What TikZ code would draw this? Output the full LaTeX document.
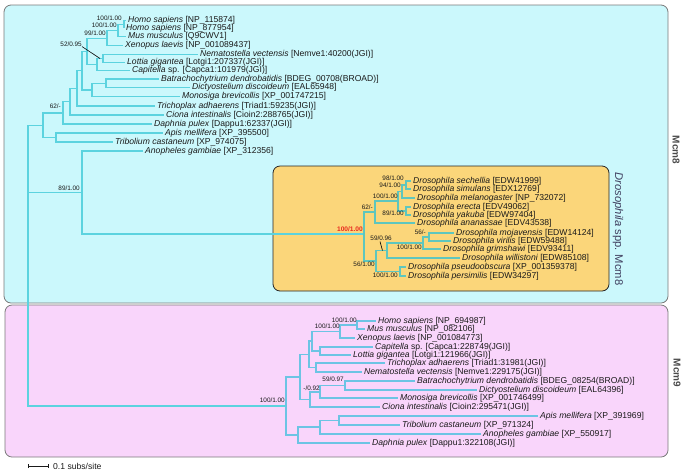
\documentclass[tikz,border=0pt]{standalone}
\usepackage{fontspec}
\setmainfont{Liberation Sans}
\usetikzlibrary{arrows.meta}
\definecolor{boxA}{HTML}{CBF8FC}
\definecolor{boxB}{HTML}{F9D5FB}
\definecolor{boxD}{HTML}{FBD67A}
\definecolor{bordA}{HTML}{7A7A7A}
\definecolor{bordD}{HTML}{262626}
\definecolor{cA}{HTML}{5CD3DF}
\definecolor{cD}{HTML}{5EC6BE}
\definecolor{cB}{HTML}{6CC4E4}
\definecolor{txt}{HTML}{1A1A1A}
\definecolor{mlab}{HTML}{4A4A4A}
\definecolor{dlab}{HTML}{3F3F5F}
\definecolor{redlab}{HTML}{E8281E}
\tikzset{
  leaf/.style={anchor=west, inner xsep=2pt, inner ysep=0pt, font=\fontsize{8.6}{9}\selectfont, text=txt},
  sup/.style={anchor=east, inner sep=0pt, font=\fontsize{6.4}{7}\selectfont, text=txt},
  bA/.style={draw=cA, line width=1.2pt},
  bD/.style={draw=cD, line width=1.2pt},
  bB/.style={draw=cB, line width=1.2pt},
  panel/.style={rounded corners=7pt, line width=0.8pt},
  leader/.style={draw=black, line width=0.6pt},
}
\begin{document}
\begin{tikzpicture}[x=1pt,y=-1pt]
\useasboundingbox (0,0) rectangle (685,475);
% panels
\draw[panel, fill=boxA, draw=bordA] (4,5) rectangle (668,303);
\draw[panel, fill=boxB, draw=bordA] (5,305) rectangle (668,457);
\draw[panel, fill=boxD, draw=bordD] (273,166) rectangle (609,291);
\node[rotate=-90, font=\fontsize{10}{12}\selectfont\bfseries, text=mlab] (m8) at (676,150) {Mcm8};
\node[rotate=-90, font=\fontsize{10}{12}\selectfont\bfseries, text=mlab] (m9) at (677,373) {Mcm9};
\node[rotate=-90, font=\fontsize{11.2}{13}\selectfont, text=dlab] (dl) at (618,229) {\textit{Drosophila} spp. Mcm8};

% ---------- Mcm8 leaves ----------
\node[leaf] (t1) at (126,20.7) {\textit{Homo sapiens} [NP\_115874]};
\node[leaf] (t2) at (124,28.3) {\textit{Homo sapiens} [NP\_877954]};
\node[leaf] (t3) at (126,36.7) {\textit{Mus musculus} [Q9CWV1]};
\node[leaf] (t4) at (123,45.7) {\textit{Xenopus laevis} [NP\_001089437]};
\node[leaf] (t5) at (198,54.3) {\textit{Nematostella vectensis} [Nemve1:40200(JGI)]};
\node[leaf] (t6) at (125,62.7) {\textit{Lottia gigantea} [Lotgi1:207337(JGI)]};
\node[leaf] (t7) at (130,70.7) {\textit{Capitella} sp. [Capca1:101979(JGI)]};
\node[leaf] (t8) at (159,79) {\textit{Batrachochytrium dendrobatidis} [BDEG\_00708(BROAD)]};
\node[leaf] (t9) at (190,87.3) {\textit{Dictyostelium discoideum} [EAL65948]};
\node[leaf] (t10) at (180,96.7) {\textit{Monosiga brevicollis} [XP\_001747215]};
\node[leaf] (t11) at (155,106) {\textit{Trichoplax adhaerens} [Triad1:59235(JGI)]};
\node[leaf] (t12) at (164,115) {\textit{Ciona intestinalis} [Cioin2:288765(JGI)]};
\node[leaf] (t13) at (152,124) {\textit{Daphnia pulex} [Dappu1:62337(JGI)]};
\node[leaf] (t14) at (163,133) {\textit{Apis mellifera} [XP\_395500]};
\node[leaf] (t15) at (113,142) {\textit{Tribolium castaneum} [XP\_974075]};
\node[leaf] (t16) at (143,151) {\textit{Anopheles gambiae} [XP\_312356]};

% Mcm8 internal nodes
\coordinate (R) at (28,192.5);
\coordinate (a) at (124,24.5);
\coordinate (b) at (118,30.6);
\coordinate (c) at (107,38.2);
\coordinate (d) at (103,58.5);
\coordinate (e) at (97,64.6);
\coordinate (f) at (87,51.4);
\coordinate (g) at (106,83.2);
\coordinate (hh) at (92,90);
\coordinate (i) at (82,70.7);
\coordinate (j) at (77,88.4);
\coordinate (k) at (70,101.7);
\coordinate (K) at (63,112.9);
\coordinate (L) at (56,137.5);
\coordinate (H) at (43,125.2);
\coordinate (G) at (82,192.5);

\draw[bA] (a) |- (t1.west);
\draw[bA] (a) |- (t2.west);
\draw[bA] (b) |- (a);
\draw[bA] (b) |- (t3.west);
\draw[bA] (c) |- (b);
\draw[bA] (c) |- (t4.west);
\draw[bA] (d) |- (t5.west);
\draw[bA] (d) |- (t6.west);
\draw[bA] (e) |- (d);
\draw[bA] (e) |- (t7.west);
\draw[bA] (f) |- (c);
\draw[bA] (f) |- (e);
\draw[bA] (g) |- (t8.west);
\draw[bA] (g) |- (t9.west);
\draw[bA] (hh) |- (g);
\draw[bA] (hh) |- (t10.west);
\draw[bA] (i) |- (f);
\draw[bA] (i) |- (hh);
\draw[bA] (j) |- (i);
\draw[bA] (j) |- (t11.west);
\draw[bA] (k) |- (j);
\draw[bA] (k) |- (t12.west);
\draw[bA] (K) |- (k);
\draw[bA] (K) |- (t13.west);
\draw[bA] (L) |- (t14.west);
\draw[bA] (L) |- (t15.west);
\draw[bA] (H) |- (K);
\draw[bA] (H) |- (L);
\draw[bA] (G) |- (t16.west);
\draw[bA] (R) |- (H);
\draw[bA] (R) |- (G);

\node[sup] (s1) at (122,18) {100/1.00};
\node[sup] (s2) at (117,25.3) {100/1.00};
\node[sup] (s3) at (106,33) {99/1.00};
\node[sup] (s4) at (82,44) {52/0.95};
\coordinate (s4e) at (100,58.5);
\draw[leader] (s4.south east) -- (s4e);
\node[sup] (s5) at (61,106) {62/-};
\node[sup] (s6) at (80,188.5) {89/1.00};

% ---------- Drosophila ----------
\node[leaf] (d1) at (411,181) {\textit{Drosophila sechellia} [EDW41999]};
\node[leaf] (d2) at (411,189) {\textit{Drosophila simulans} [EDX12769]};
\node[leaf] (d3) at (415,198) {\textit{Drosophila melanogaster} [NP\_732072]};
\node[leaf] (d4) at (411,207) {\textit{Drosophila erecta} [EDV49062]};
\node[leaf] (d5) at (411,215) {\textit{Drosophila yakuba} [EDW97404]};
\node[leaf] (d6) at (415,223) {\textit{Drosophila ananassae} [EDV43538]};
\node[leaf] (d7) at (454,233) {\textit{Drosophila mojavensis} [EDW14124]};
\node[leaf] (d8) at (451,241) {\textit{Drosophila virilis} [EDW59488]};
\node[leaf] (d9) at (441,249) {\textit{Drosophila grimshawi} [EDV93411]};
\node[leaf] (d10) at (460,258) {\textit{Drosophila willistoni} [EDW85108]};
\node[leaf] (d11) at (406,267) {\textit{Drosophila pseudoobscura} [XP\_001359378]};
\node[leaf] (d12) at (406,276) {\textit{Drosophila persimilis} [EDW34297]};

\coordinate (D0) at (364,234);
\coordinate (D1) at (375,212);
\coordinate (D2) at (398,201);
\coordinate (E1) at (406,185);
\coordinate (E2) at (402,191.5);
\coordinate (E3) at (406,211);
\coordinate (F1) at (376,261);
\coordinate (F2) at (387,250.5);
\coordinate (F3) at (400,271.5);
\coordinate (F4) at (423,243);
\coordinate (F5) at (429,237);

\draw[bA] (G) |- (D0);
\draw[bD] (E1) |- (d1.west);
\draw[bD] (E1) |- (d2.west);
\draw[bD] (E2) |- (E1);
\draw[bD] (E2) |- (d3.west);
\draw[bD] (E3) |- (d4.west);
\draw[bD] (E3) |- (d5.west);
\draw[bD] (D2) |- (E2);
\draw[bD] (D2) |- (E3);
\draw[bD] (D1) |- (D2);
\draw[bD] (D1) |- (d6.west);
\draw[bD] (F5) |- (d7.west);
\draw[bD] (F5) |- (d8.west);
\draw[bD] (F4) |- (F5);
\draw[bD] (F4) |- (d9.west);
\draw[bD] (F2) |- (F4);
\draw[bD] (F2) |- (d10.west);
\draw[bD] (F3) |- (d11.west);
\draw[bD] (F3) |- (d12.west);
\draw[bD] (F1) |- (F2);
\draw[bD] (F1) |- (F3);
\draw[bD] (D0) |- (D1);
\draw[bD] (D0) |- (F1);

\node[sup, font=\fontsize{6.6}{7}\selectfont\bfseries, text=redlab] (r1) at (363,229.5) {100/1.00};
\node[sup] (s7) at (373,207.5) {62/-};
\node[sup] (s8) at (398,196) {100/1.00};
\node[sup] (s9) at (404,178) {98/1.00};
\node[sup] (s10) at (401,185.5) {94/1.00};
\node[sup] (s11) at (404,213) {89/1.00};
\node[sup] (s12) at (426,232) {56/-};
\node[sup] (s13) at (392,238) {59/0.96};
\coordinate (s13e) at (382.5,250.5);
\coordinate (s13s) at (380,241.5);
\draw[leader] (s13s) -- (s13e);
\node[sup] (s14) at (422,247) {100/1.00};
\node[sup] (s15) at (375,264) {56/1.00};
\node[sup] (s16) at (398,275) {100/1.00};

% ---------- Mcm9 ----------
\node[leaf] (u1) at (376,321) {\textit{Homo sapiens} [NP\_694987]};
\node[leaf] (u2) at (365,329) {\textit{Mus musculus} [NP\_082106]};
\node[leaf] (u3) at (355,338) {\textit{Xenopus laevis} [NP\_001084773]};
\node[leaf] (u4) at (373,347) {\textit{Capitella} sp. [Capca1:228749(JGI)]};
\node[leaf] (u5) at (351,355) {\textit{Lottia gigantea} [Lotgi1:121966(JGI)]};
\node[leaf] (u6) at (385,363) {\textit{Trichoplax adhaerens} [Triad1:31981(JGI)]};
\node[leaf] (u7) at (362,372) {\textit{Nematostella vectensis} [Nemve1:229175(JGI)]};
\node[leaf] (u8) at (415,381) {\textit{Batrachochytrium dendrobatidis} [BDEG\_08254(BROAD)]};
\node[leaf] (u9) at (477,390) {\textit{Dictyostelium discoideum} [EAL64396]};
\node[leaf] (u10) at (398,398) {\textit{Monosiga brevicollis} [XP\_001746499]};
\node[leaf] (u11) at (380,407) {\textit{Ciona intestinalis} [Cioin2:295471(JGI)]};
\node[leaf] (u12) at (538,416) {\textit{Apis mellifera} [XP\_391969]};
\node[leaf] (u13) at (400,425) {\textit{Tribolium castaneum} [XP\_971324]};
\node[leaf] (u14) at (481,434) {\textit{Anopheles gambiae} [XP\_550917]};
\node[leaf] (u15) at (370,443) {\textit{Daphnia pulex} [Dappu1:322108(JGI)]};

\coordinate (M0) at (286,406);
\coordinate (n1) at (357,325);
\coordinate (n2) at (340,331.5);
\coordinate (n3) at (320,351);
\coordinate (n4) at (312,341);
\coordinate (n5) at (316,367.5);
\coordinate (n6) at (309,354.5);
\coordinate (n7) at (345,385.5);
\coordinate (n8) at (320,392);
\coordinate (n9) at (310,399.5);
\coordinate (n10) at (300,377);
\coordinate (n11) at (339,420.5);
\coordinate (n12) at (320,427);
\coordinate (n13) at (298,435);

\draw[bA] (R) |- (M0);
\draw[bB] (n1) |- (u1.west);
\draw[bB] (n1) |- (u2.west);
\draw[bB] (n2) |- (n1);
\draw[bB] (n2) |- (u3.west);
\draw[bB] (n3) |- (u4.west);
\draw[bB] (n3) |- (u5.west);
\draw[bB] (n4) |- (n2);
\draw[bB] (n4) |- (n3);
\draw[bB] (n5) |- (u6.west);
\draw[bB] (n5) |- (u7.west);
\draw[bB] (n6) |- (n4);
\draw[bB] (n6) |- (n5);
\draw[bB] (n7) |- (u8.west);
\draw[bB] (n7) |- (u9.west);
\draw[bB] (n8) |- (n7);
\draw[bB] (n8) |- (u10.west);
\draw[bB] (n9) |- (n8);
\draw[bB] (n9) |- (u11.west);
\draw[bB] (n10) |- (n6);
\draw[bB] (n10) |- (n9);
\draw[bB] (n11) |- (u12.west);
\draw[bB] (n11) |- (u13.west);
\draw[bB] (n12) |- (n11);
\draw[bB] (n12) |- (u14.west);
\draw[bB] (n13) |- (n12);
\draw[bB] (n13) |- (u15.west);
\draw[bB] (M0) |- (n10);
\draw[bB] (M0) |- (n13);

\node[sup] (s17) at (357,320) {100/1.00};
\node[sup] (s18) at (340,326.5) {100/1.00};
\node[sup] (s19) at (344,379) {59/0.97};
\node[sup] (s20) at (320,388) {-/0.92};
\node[sup] (s21) at (285,400.5) {100/1.00};

% scale bar
\coordinate (sb1) at (28,466);
\coordinate (sb2) at (49,466);
\draw[draw=txt, line width=0.6pt, {Bar[width=4pt]}-{Bar[width=4pt]}] (sb1) -- (sb2);
\node[leaf] (sbt) at (51,466) {0.1 subs/site};
\end{tikzpicture}
\end{document}
